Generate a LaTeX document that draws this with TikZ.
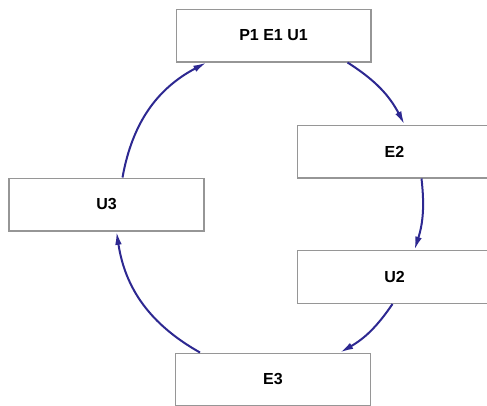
\documentclass[tikz,border=0pt]{standalone}
\usepackage{fontspec}
\setsansfont{Liberation Sans}
\usetikzlibrary{calc,arrows.meta}
\tikzset{>={Latex[length=10pt,width=5pt]}}
\definecolor{cyclearrow}{RGB}{45,40,145}
\definecolor{boxline}{RGB}{150,150,150}

\begin{document}
\begin{tikzpicture}[x=0.75pt,y=0.75pt,
		box/.style={draw=boxline,line width=1pt,fill=white,minimum width=146pt,minimum height=39.5pt,inner sep=0pt,font=\sffamily\bfseries\fontsize{12}{14}\selectfont},
		cyc/.style={->,cyclearrow,line width=1.5pt}]
		\clip (0,0) rectangle (487,405);
		\fill[white] (0,0) rectangle (487,405);
		\node[box] (p1) at (273.5,369.5) {P1 E1 U1};
		\node[box] (e2) at (394.5,253.5) {E2};
		\node[box] (u3) at (106.5,200.5) {U3};
		\node[box] (u2) at (394.5,128) {U2};
		\node[box] (e3) at (273,25.5) {E3};
		% the cycle, clockwise
		\draw[cyc] ($(p1.south east)+(-24,0)$) to[bend left=15] ($(e2.north west)+(108,0)$);
		\draw[cyc] ($(e2.south west)+(125,0)$) to[bend left=12] ($(u2.north west)+(118,0)$);
		\draw[cyc] ($(u2.south west)+(96,0)$) to[bend left=13] ($(e3.north east)+(-31,0)$);
		\draw[cyc] ($(e3.north west)+(25,0)$) to[bend left=26] ($(u3.south west)+(108,0)$);
		\draw[cyc] ($(u3.north west)+(114,0)$) to[bend left=26] ($(p1.south west)+(31,0)$);
	\end{tikzpicture}
\end{document}
